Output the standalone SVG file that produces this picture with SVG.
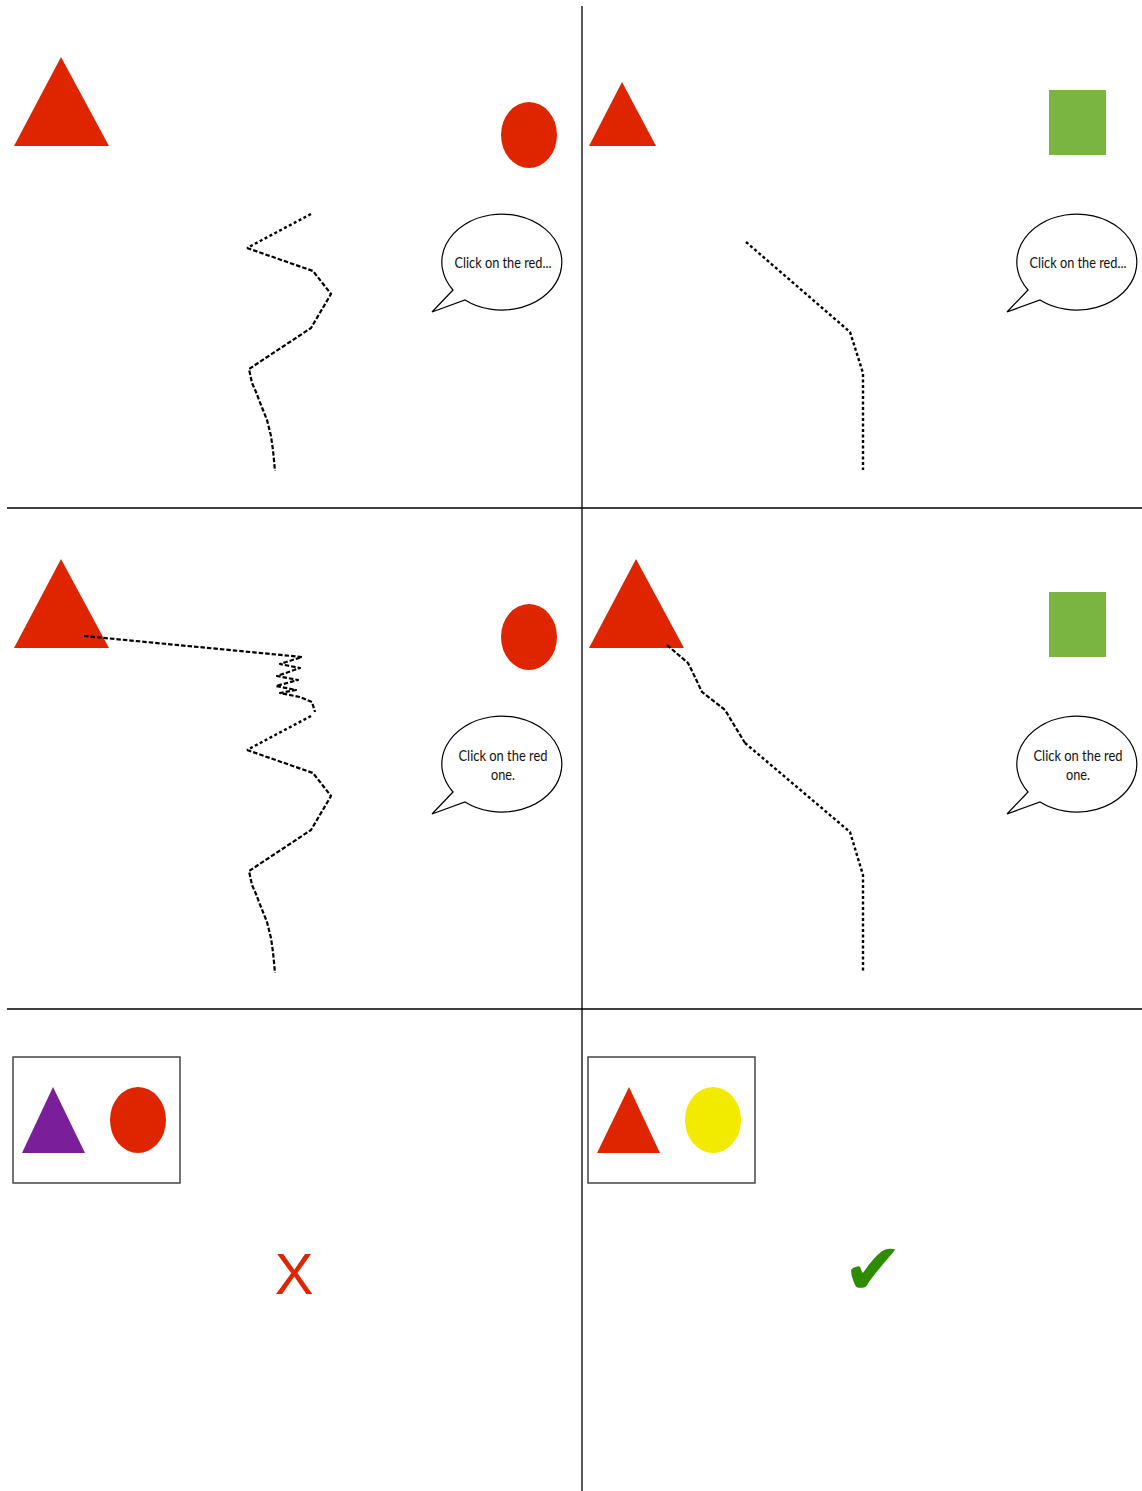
<svg xmlns="http://www.w3.org/2000/svg" width="1142" height="1491" viewBox="0 0 1142 1491">
<style>
.red{fill:#DE2500}
.green{fill:#79B540}
.purple{fill:#7A1E99}
.yellow{fill:#F2EB00}
.div{stroke:#000;stroke-width:1.3;fill:none}
.frame{fill:#fff;stroke:#444;stroke-width:1.5}
.bubble{fill:#fff;stroke:#000;stroke-width:1.2}
.btxt{font-family:Lato,"Liberation Sans",sans-serif;font-size:15px;fill:#111;text-anchor:middle}
.trail{fill:none;stroke:#000;stroke-width:2.2;stroke-dasharray:4.5 2;stroke-linejoin:round}
.dots{fill:none;stroke:#000;stroke-width:2.4;stroke-dasharray:3 2.5}
</style>
<rect width="1142" height="1491" fill="#fff"/>
<g id="dividers">
<line class="div" x1="582" y1="6" x2="582" y2="1491"/>
<line class="div" x1="7" y1="508" x2="1142" y2="508"/>
<line class="div" x1="7" y1="1009" x2="1142" y2="1009"/>
</g>
<g id="panel1">
<polygon class="red" points="14,146 109,146 61,57"/>
<ellipse class="red" cx="529" cy="135" rx="28" ry="33"/>
<path class="bubble" d="M453,290 L432,312 L465,300 A60 48 0 1 0 453,290 Z"/>
<text class="btxt" x="503" y="268" textLength="97" lengthAdjust="spacingAndGlyphs">Click on the red...</text>
</g>
<g id="panel2">
<polygon class="red" points="589,146 656,146 622,82"/>
<rect class="green" x="1049" y="90" width="57" height="65"/>
<path class="bubble" d="M1028,290 L1007,312 L1040,300 A60 48 0 1 0 1028,290 Z"/>
<text class="btxt" x="1078" y="268" textLength="97" lengthAdjust="spacingAndGlyphs">Click on the red...</text>
</g>
<g id="panel3">
<polygon class="red" points="14,648 109,648 61,559"/>
<ellipse class="red" cx="529" cy="637" rx="28" ry="33"/>
<path class="bubble" d="M453,792 L432,814 L465,802 A60 48 0 1 0 453,792 Z"/>
<text class="btxt" x="503" y="761" textLength="89" lengthAdjust="spacingAndGlyphs">Click on the red</text>
<text class="btxt" x="503" y="780" textLength="24" lengthAdjust="spacingAndGlyphs">one.</text>
</g>
<g id="panel4">
<polygon class="red" points="589,648 684,648 636,559"/>
<rect class="green" x="1049" y="592" width="57" height="65"/>
<path class="bubble" d="M1028,792 L1007,814 L1040,802 A60 48 0 1 0 1028,792 Z"/>
<text class="btxt" x="1078" y="761" textLength="89" lengthAdjust="spacingAndGlyphs">Click on the red</text>
<text class="btxt" x="1078" y="780" textLength="24" lengthAdjust="spacingAndGlyphs">one.</text>
</g>
<g id="panel5">
<rect class="frame" x="13" y="1057" width="167" height="126"/>
<polygon class="purple" points="22,1153 85,1153 53,1087"/>
<ellipse class="red" cx="138" cy="1120" rx="28" ry="33"/>
<text x="294" y="1294" font-family="Liberation Sans,Arial,sans-serif" font-size="58" fill="#DE2500" text-anchor="middle">X</text>
</g>
<g id="panel6">
<rect class="frame" x="588" y="1057" width="167" height="126"/>
<polygon class="red" points="597,1153 660,1153 629,1087"/>
<ellipse class="yellow" cx="713" cy="1120" rx="28" ry="33"/>
<text x="873" y="1294" font-family="DejaVu Sans,sans-serif" font-size="72" fill="#2E8C00" text-anchor="middle">✔</text>
</g>
<g id="connectors">
<polyline class="dots" points="311,214 247,248"/>
<polyline class="trail" points="247,248 313,271 331,294 311,328 249,369 252,383 256,392 259,400 263,410 267,420 271,436 273,450 275,471"/>
<polyline class="dots" points="746,242 850,332 863,373 863,470"/>
<polyline class="trail" points="84,636 302,657 280,664 300,668 277,676 298,680 276,686 296,690 280,693 300,697 312,702 315,712"/>
<polyline class="dots" points="311,716 247,750"/>
<polyline class="trail" points="247,750 313,773 331,796 311,830 249,871 252,885 256,894 259,902 263,912 267,922 271,938 273,952 275,973"/>
<polyline class="trail" points="667,645 688,663 693,673 702,692 725,710 745,743"/>
<polyline class="dots" points="745,743 850,832 863,875 863,972"/>
</g>
</svg>
